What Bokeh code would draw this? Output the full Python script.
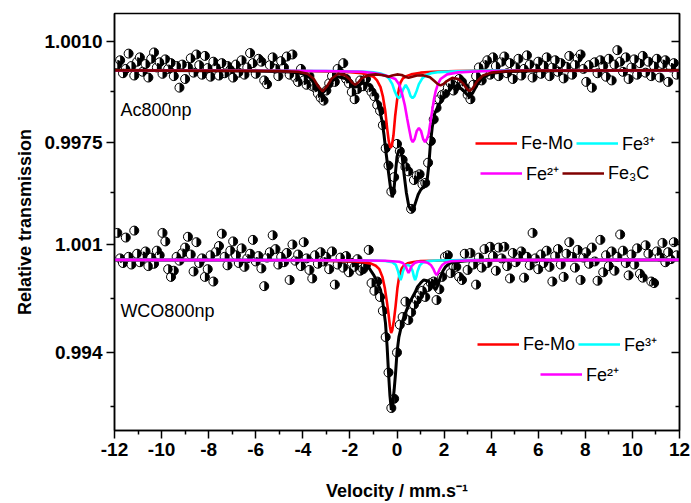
import math
from bokeh.plotting import figure
from bokeh.models import (Range1d, LinearAxis, FixedTicker, CustomJSTickFormatter,
                          Label, Legend, LegendItem)
from bokeh.embed import file_html
from bokeh.resources import INLINE

# ---------------- data ----------------
velocity = [
    -11.88, -11.76, -11.64, -11.52, -11.40, -11.28, -11.16, -11.04, -10.92, -10.80,
    -10.68, -10.56, -10.44, -10.32, -10.20, -10.08, -9.96, -9.84, -9.72, -9.60,
    -9.48, -9.36, -9.24, -9.12, -9.00, -8.88, -8.76, -8.64, -8.52, -8.40,
    -8.28, -8.16, -8.04, -7.92, -7.80, -7.68, -7.56, -7.44, -7.32, -7.20,
    -7.08, -6.96, -6.84, -6.72, -6.60, -6.48, -6.36, -6.24, -6.12, -6.00,
    -5.88, -5.76, -5.64, -5.52, -5.40, -5.28, -5.16, -5.04, -4.92, -4.80,
    -4.68, -4.56, -4.44, -4.32, -4.20, -4.08, -3.96, -3.84, -3.72, -3.60,
    -3.48, -3.36, -3.24, -3.12, -3.00, -2.88, -2.76, -2.64, -2.52, -2.40,
    -2.28, -2.16, -2.04, -1.92, -1.80, -1.68, -1.56, -1.44, -1.32, -1.20,
    -1.08, -0.96, -0.84, -0.72, -0.60, -0.48, -0.36, -0.24, -0.12, 0.00,
    0.12, 0.24, 0.36, 0.48, 0.60, 0.72, 0.84, 0.96, 1.08, 1.20,
    1.32, 1.44, 1.56, 1.68, 1.80, 1.92, 2.04, 2.16, 2.28, 2.40,
    2.52, 2.64, 2.76, 2.88, 3.00, 3.12, 3.24, 3.36, 3.48, 3.60,
    3.72, 3.84, 3.96, 4.08, 4.20, 4.32, 4.44, 4.56, 4.68, 4.80,
    4.92, 5.04, 5.16, 5.28, 5.40, 5.52, 5.64, 5.76, 5.88, 6.00,
    6.12, 6.24, 6.36, 6.48, 6.60, 6.72, 6.84, 6.96, 7.08, 7.20,
    7.32, 7.44, 7.56, 7.68, 7.80, 7.92, 8.04, 8.16, 8.28, 8.40,
    8.52, 8.64, 8.76, 8.88, 9.00, 9.12, 9.24, 9.36, 9.48, 9.60,
    9.72, 9.84, 9.96, 10.08, 10.20, 10.32, 10.44, 10.56, 10.68, 10.80,
    10.92, 11.04, 11.16, 11.28, 11.40, 11.52, 11.64, 11.76, 11.88,
]

ac800_T = [
    1.00020, 1.00035, 0.99990, 1.00005, 1.00058, 1.00015, 0.99982, 1.00030, 1.00045, 0.99995,
    1.00022, 0.99975, 1.00040, 1.00062, 1.00010, 1.00028, 0.99988, 1.00038, 1.00005, 1.00025,
    0.99980, 1.00015, 0.99940, 1.00020, 0.99970, 1.00012, 1.00042, 0.99992, 1.00055, 1.00018,
    0.99985, 1.00050, 1.00008, 0.99978, 1.00030, 1.00010, 0.99982, 1.00025, 0.99990, 1.00015,
    1.00002, 0.99975, 1.00020, 0.99992, 1.00035, 0.99985, 1.00010, 1.00060, 1.00025, 0.99988,
    1.00040, 1.00030, 0.99965, 0.99952, 1.00018, 1.00045, 1.00005, 0.99980, 1.00032, 1.00010,
    1.00048, 0.99985, 1.00055, 0.99975, 0.99960, 1.00005, 0.99965, 0.99950, 0.99980, 0.99945,
    0.99940, 0.99920, 0.99905, 0.99895, 0.99930, 0.99955, 0.99980, 0.99960, 1.00005, 0.99990,
    1.00025, 0.99970, 0.99955, 0.99925, 0.99900, 0.99935, 0.99965, 0.99945, 0.99970, 0.99940,
    0.99925, 0.99910, 0.99880, 0.99860, 0.99810, 0.99730, 0.99670, 0.99580, 0.99630, 0.99745,
    0.99720, 0.99690, 0.99665, 0.99650, 0.99520, 0.99620, 0.99635, 0.99640, 0.99605, 0.99610,
    0.99680, 0.99755, 0.99830, 0.99870, 0.99900, 0.99915, 0.99920, 0.99940, 0.99955, 0.99930,
    0.99945, 0.99970, 0.99960, 0.99940, 0.99915, 0.99900, 0.99950, 0.99980, 1.00010, 0.99965,
    1.00020, 1.00035, 0.99985, 1.00045, 1.00015, 0.99980, 1.00030, 1.00048, 0.99990, 1.00025,
    0.99970, 1.00010, 1.00040, 0.99982, 1.00005, 1.00052, 1.00020, 0.99975, 1.00008, 1.00030,
    0.99988, 1.00015, 1.00045, 0.99980, 1.00010, 1.00035, 0.99995, 1.00025, 0.99972, 1.00012,
    1.00050, 0.99985, 1.00020, 1.00042, 1.00055, 1.00005, 0.99960, 1.00018, 0.99940, 1.00028,
    0.99990, 1.00035, 1.00015, 0.99978, 1.00040, 0.99965, 1.00020, 1.00070, 1.00030, 0.99995,
    1.00045, 0.99970, 1.00010, 1.00038, 0.99985, 1.00025, 1.00050, 0.99992, 1.00030, 0.99980,
    1.00015, 1.00040, 0.99975, 1.00022, 1.00035, 0.99960, 1.00010, 1.00025, 0.99985,
]

wco800_T = [
    1.00175, 1.00010, 0.99980, 1.00145, 1.00020, 0.99970, 1.00190, 1.00040, 0.99985, 1.00025,
    1.00055, 0.99960, 1.00015, 0.99975, 1.00060, 1.00030, 1.00175, 1.00120, 0.99940, 0.99890,
    0.99930, 1.00020, 0.99995, 1.00045, 1.00080, 1.00150, 1.00035, 0.99925, 1.00115, 0.99980,
    1.00010, 0.99890, 0.99940, 1.00030, 0.99860, 1.00055, 1.00090, 1.00170, 1.00020, 0.99965,
    1.00060, 1.00120, 1.00030, 0.99980, 1.00075, 0.99955, 1.00010, 1.00040, 1.00130, 0.99990,
    1.00025, 0.99945, 0.99830, 1.00015, 1.00050, 1.00160, 1.00070, 0.99970, 1.00020, 0.99985,
    1.00045, 0.99870, 1.00100, 0.99995, 1.00035, 0.99960, 1.00115, 1.00010, 0.99935, 0.99880,
    1.00030, 0.99975, 1.00050, 0.99990, 1.00020, 0.99940, 1.00055, 0.99840, 0.99970, 1.00015,
    0.99950, 1.00025, 0.99920, 0.99980, 0.99955, 1.00005, 0.99930, 0.99940, 0.99965, 1.00065,
    0.99850, 0.99800, 0.99860, 0.99760, 0.99670, 0.99500, 0.99270, 0.99040, 0.99100, 0.99400,
    0.99580, 0.99630, 0.99730, 0.99610, 0.99660, 0.99710, 0.99740, 0.99770, 0.99800, 0.99760,
    0.99825, 0.99850, 0.99860, 0.99740, 0.99810, 0.99890, 1.00020, 1.00030, 0.99915, 0.99960,
    0.99955, 0.99890, 0.99870, 1.00040, 0.99935, 1.00045, 0.99970, 0.99840, 1.00015, 0.99950,
    1.00070, 0.99980, 1.00085, 1.00025, 0.99930, 1.00080, 1.00010, 1.00085, 0.99960, 0.99880,
    1.00045, 0.99985, 1.00030, 1.00055, 0.99885, 1.00020, 0.99965, 1.00175, 1.00010, 0.99940,
    1.00035, 0.99980, 1.00060, 0.99955, 0.99860, 1.00025, 1.00070, 0.99970, 0.99890, 1.00040,
    1.00115, 1.00020, 0.99950, 1.00065, 0.99870, 1.00015, 1.00050, 0.99975, 1.00080, 0.99990,
    0.99865, 1.00130, 0.99920, 1.00030, 0.99960, 1.00055, 0.99930, 1.00020, 1.00165, 1.00060,
    0.99980, 0.99900, 1.00035, 0.99970, 1.00075, 0.99910, 0.99885, 1.00095, 1.00040, 0.99860,
    0.99850, 1.00055, 1.00020, 1.00110, 0.99985, 1.00050, 1.00005, 1.00115, 1.00030,
]

# fitted sub-spectra, Ac800np (velocity, transmission)
ac_total_v = [-12, -6, -4.5, -4.0, -3.7, -3.5, -3.3, -3.16, -3.0, -2.8, -2.5, -2.2, -2.0, -1.85, -1.78,
              -1.65, -1.5, -1.3, -1.1, -0.95, -0.84, -0.73, -0.63, -0.55, -0.49, -0.42, -0.35, -0.27,
              -0.2, -0.13, -0.06, 0.0, 0.07, 0.15, 0.22, 0.3, 0.4, 0.5, 0.6, 0.7, 0.8, 0.9, 1.0, 1.1,
              1.2, 1.28, 1.35, 1.42, 1.5, 1.6, 1.72, 1.85, 1.95, 2.1, 2.3, 2.55, 2.8, 2.95, 3.08, 3.22,
              3.4, 3.65, 4.0, 4.6, 6, 12]
ac_total_T = [1.0, 0.99998, 0.99994, 0.99988, 0.99975, 0.99955, 0.99932, 0.99922, 0.99935, 0.99960,
              0.99978, 0.99972, 0.99958, 0.99945, 0.99942, 0.99945, 0.99955, 0.99955, 0.99942, 0.99925,
              0.99895, 0.99860, 0.99823, 0.99775, 0.99731, 0.99685, 0.99640, 0.99590, 0.99560, 0.99585,
              0.99650, 0.99700, 0.99722, 0.99726, 0.99700, 0.99640, 0.99575, 0.99530, 0.99515, 0.99520,
              0.99545, 0.99570, 0.99585, 0.99595, 0.99600, 0.99620, 0.99670, 0.99745, 0.99805, 0.99850,
              0.99872, 0.99890, 0.99902, 0.99915, 0.99938, 0.99948, 0.99932, 0.99918, 0.99910, 0.99922,
              0.99950, 0.99975, 0.99989, 0.99996, 0.99999, 1.0]

ac_femo_v = [-12, -4, -2, -1.5, -1.2, -1.0, -0.85, -0.7, -0.6, -0.5, -0.42, -0.35, -0.28, -0.22, -0.15,
             -0.08, 0.0, 0.08, 0.15, 0.25, 0.4, 0.6, 1.0, 1.5, 2.5, 4, 12]
ac_femo_T = [1.0, 0.99998, 0.99994, 0.99990, 0.99984, 0.99978, 0.99965, 0.99942, 0.99910, 0.99860,
             0.99800, 0.99755, 0.99732, 0.99738, 0.99775, 0.99840, 0.99895, 0.99935, 0.99958, 0.99972,
             0.99980, 0.99986, 0.99992, 0.99995, 0.99998, 0.99999, 1.0]

ac_fe3_v = [-12, -3, -1.5, -1.0, -0.7, -0.5, -0.35, -0.2, -0.1, 0.0, 0.08, 0.16, 0.25, 0.37, 0.49, 0.58,
            0.66, 0.74, 0.83, 0.93, 1.08, 1.25, 1.45, 1.8, 2.5, 4, 12]
ac_fe3_T = [1.0, 0.99998, 0.99996, 0.99993, 0.99989, 0.99983, 0.99973, 0.99952, 0.99928, 0.99910,
            0.99904, 0.99910, 0.99932, 0.99950, 0.99932, 0.99910, 0.99904, 0.99910, 0.99928, 0.99952,
            0.99973, 0.99984, 0.99990, 0.99994, 0.99997, 0.99999, 1.0]

ac_fe2_v = [-12, -3, -1.5, -1.0, -0.7, -0.4, -0.07, 0.1, 0.22, 0.33, 0.43, 0.52, 0.6, 0.67, 0.75, 0.84,
            0.93, 1.02, 1.11, 1.19, 1.27, 1.34, 1.42, 1.49, 1.57, 1.64, 1.75, 1.85, 2.13, 2.6, 3.5, 5, 12]
ac_fe2_T = [1.0, 0.99998, 0.99995, 0.99991, 0.99986, 0.99980, 0.99970, 0.99950, 0.99917, 0.99880,
            0.99834, 0.99795, 0.99762, 0.99751, 0.99762, 0.99790, 0.99800, 0.99790, 0.99762, 0.99751,
            0.99762, 0.99778, 0.99820, 0.99858, 0.99900, 0.99927, 0.99955, 0.99970, 0.99986, 0.99993,
            0.99997, 0.99999, 1.0]

ac_fe3c_v = [-12, -5, -4.2, -3.8, -3.55, -3.35, -3.16, -2.97, -2.77, -2.5, -2.2, -2.0, -1.9, -1.78, -1.66,
             -1.5, -1.2, -0.9, -0.65, -0.5, -0.36, -0.2, 0.0, 0.2, 0.35, 0.49, 0.65, 0.85, 1.1, 1.4,
             1.6, 1.72, 1.85, 1.98, 2.1, 2.35, 2.6, 2.8, 2.95, 3.08, 3.22, 3.4, 3.65, 4.0, 4.6, 5.5, 12]
ac_fe3c_T = [1.0, 0.99998, 0.99995, 0.99988, 0.99972, 0.99945, 0.99927, 0.99945, 0.99972, 0.99988,
             0.99982, 0.99968, 0.99957, 0.99950, 0.99957, 0.99972, 0.99984, 0.99986, 0.99984, 0.99981,
             0.99978, 0.99982, 0.99986, 0.99984, 0.99978, 0.99974, 0.99978, 0.99982, 0.99983, 0.99976,
             0.99962, 0.99953, 0.99948, 0.99953, 0.99962, 0.99974, 0.99970, 0.99955, 0.99938, 0.99928,
             0.99938, 0.99962, 0.99982, 0.99992, 0.99997, 0.99999, 1.0]

# fitted sub-spectra, WCO800np
wco_total_v = [-12, -3, -2, -1.6, -1.42, -1.25, -1.13, -0.98, -0.83, -0.7, -0.6, -0.49, -0.42, -0.36, -0.3,
               -0.24, -0.18, -0.12, -0.06, 0.0, 0.08, 0.15, 0.25, 0.36, 0.5, 0.66, 0.77, 0.87, 1.0, 1.13,
               1.28, 1.42, 1.55, 1.64, 1.75, 1.85, 1.95, 2.06, 2.2, 2.4, 3, 4, 12]
wco_total_T = [1.0, 0.99997, 0.99992, 0.99986, 0.99981, 0.99960, 0.99935, 0.99900, 0.99851, 0.99806,
               0.99720, 0.99592, 0.99440, 0.99268, 0.99120, 0.99028, 0.99070, 0.99160, 0.99268, 0.99400,
               0.99500, 0.99546, 0.99610, 0.99657, 0.99710, 0.99760, 0.99790, 0.99825, 0.99850, 0.99870,
               0.99865, 0.99851, 0.99825, 0.99806, 0.99840, 0.99890, 0.99928, 0.99955, 0.99975, 0.99987,
               0.99995, 0.99998, 1.0]

wco_femo_v = [-12, -4, -2.5, -1.8, -1.4, -1.1, -0.9, -0.75, -0.62, -0.52, -0.43, -0.36, -0.3, -0.25, -0.2,
              -0.13, -0.06, 0.02, 0.1, 0.2, 0.3, 0.45, 0.7, 1.0, 1.5, 2.5, 4, 12]
wco_femo_T = [1.0, 0.99997, 0.99994, 0.99990, 0.99984, 0.99976, 0.99962, 0.99940, 0.99890, 0.99820,
              0.99730, 0.99650, 0.99570, 0.99527, 0.99545, 0.99610, 0.99700, 0.99820, 0.99900, 0.99945,
              0.99965, 0.99978, 0.99987, 0.99992, 0.99995, 0.99998, 0.99999, 1.0]

wco_fe3_v = [-12, -2, -1, -0.5, -0.2, -0.05, 0.05, 0.1, 0.15, 0.2, 0.25, 0.35, 0.46, 0.57, 0.67, 0.72,
             0.77, 0.82, 0.87, 0.97, 1.1, 1.3, 1.7, 3, 12]
wco_fe3_T = [1.0, 0.99998, 0.99996, 0.99993, 0.99985, 0.99968, 0.99925, 0.99890, 0.99870, 0.99890,
             0.99925, 0.99960, 0.99968, 0.99960, 0.99925, 0.99890, 0.99870, 0.99890, 0.99925, 0.99965,
             0.99984, 0.99992, 0.99996, 0.99999, 1.0]

wco_fe2_v = [-12, -2, -0.5, 0.1, 0.25, 0.36, 0.43, 0.49, 0.55, 0.62, 0.75, 0.9, 1.1, 1.3, 1.45, 1.55,
             1.62, 1.68, 1.74, 1.81, 1.91, 2.05, 2.3, 3, 5, 12]
wco_fe2_T = [1.0, 0.99998, 0.99995, 0.99988, 0.99980, 0.99960, 0.99935, 0.99916, 0.99935, 0.99960,
             0.99980, 0.99988, 0.99988, 0.99982, 0.99965, 0.99940, 0.99915, 0.99903, 0.99915, 0.99940,
             0.99965, 0.99982, 0.99991, 0.99996, 0.99999, 1.0]

# axis ticks
x_ticks = [-12, -10, -8, -6, -4, -2, 0, 2, 4, 6, 8, 10, 12]
x_minor_ticks = [-11, -9, -7, -5, -3, -1, 1, 3, 5, 7, 9, 11]
top_major = [1.0010, 0.9975]
top_major_labels = ["1.0010", "0.9975"]
top_minor = [0.99925, 0.99575]
bot_major = [1.001, 0.994]
bot_major_labels = ["1.001", "0.994"]
bot_minor = [0.9975, 0.9905]

# each panel's scale, stretched over the full shared frame
TOP_LO, TOP_HI = 0.98752, 1.00197
BOT_LO, BOT_HI = 0.988944, 1.015972


def bot_to_top(v):
    return TOP_LO + (v - BOT_LO) / (BOT_HI - BOT_LO) * (TOP_HI - TOP_LO)


FONT = "Liberation Sans"
RED, CYAN, MAGENTA, BROWN = "#FF0000", "#00FFFF", "#FF00FF", "#800000"

p = figure(width=691, height=503, output_backend="svg", toolbar_location=None,
           x_range=Range1d(-12, 12), y_range=Range1d(TOP_LO, TOP_HI),
           min_border_left=114, min_border_right=12, min_border_top=13, min_border_bottom=73)
p.extra_y_ranges = {"bot": Range1d(BOT_LO, BOT_HI)}
p.grid.visible = False
p.outline_line_color = "black"
p.outline_line_width = 1.5
p.background_fill_color = "white"
p.border_fill_color = "white"

# ---- axes ----
major_pos = top_major + [bot_to_top(v) for v in bot_major]
major_lab = top_major_labels + bot_major_labels
minor_pos = top_minor + [bot_to_top(v) for v in bot_minor]
yticker = FixedTicker(ticks=major_pos, minor_ticks=minor_pos)

yax = p.yaxis[0]
yax.ticker = yticker
yax.formatter = CustomJSTickFormatter(args=dict(pos=major_pos, labs=major_lab), code="""
let best = 0, bd = Infinity;
for (let i = 0; i < pos.length; i++) { const d = Math.abs(pos[i] - tick); if (d < bd) { bd = d; best = i; } }
return labs[best];
""")
yax.axis_label = "Relative transmission"
yax.axis_label_standoff = 6

xax = p.xaxis[0]
xax.ticker = FixedTicker(ticks=x_ticks, minor_ticks=x_minor_ticks)
xax.formatter = CustomJSTickFormatter(code="return tick.toString();")
xax.axis_label = "Velocity / mm.s\u207b\u00b9"
xax.axis_label_standoff = 22

for ax in (xax, yax):
    ax.major_label_text_font = FONT
    ax.major_label_text_font_style = "bold"
    ax.major_label_text_font_size = "19px"
    ax.major_label_text_color = "black"
    ax.axis_label_text_font = FONT
    ax.axis_label_text_font_style = "bold"
    ax.axis_label_text_font_size = "18px"
    ax.axis_label_text_color = "black"
    ax.major_label_standoff = 4
    ax.axis_line_width = 1.5
    ax.major_tick_line_width = 1.5
    ax.minor_tick_line_width = 1.5
    ax.major_tick_out = 8
    ax.major_tick_in = 0
    ax.minor_tick_out = 4
    ax.minor_tick_in = 0

rax = LinearAxis(ticker=yticker, formatter=CustomJSTickFormatter(code="return '';"),
                 axis_line_width=1.5, major_tick_line_width=1.5, minor_tick_line_width=1.5,
                 major_tick_in=8, major_tick_out=0, minor_tick_in=4, minor_tick_out=0,
                 major_label_text_font_size="1px")
p.add_layout(rax, "right")

# ---- data points (half-filled circles) ----
p.scatter(velocity, ac800_T, size=9, fill_color="white", line_color="black", line_width=1)
p.wedge(velocity, ac800_T, radius=4.5, radius_units="screen", start_angle=-math.pi / 2,
        end_angle=math.pi / 2, fill_color="black", line_color=None)
p.scatter(velocity, wco800_T, size=9, fill_color="white", line_color="black", line_width=1,
          y_range_name="bot")
p.wedge(velocity, wco800_T, radius=4.5, radius_units="screen", start_angle=-math.pi / 2,
        end_angle=math.pi / 2, fill_color="black", line_color=None, y_range_name="bot")

# ---- fitted curves ----
LW = 2.6
p.line(ac_total_v, ac_total_T, line_color="black", line_width=3)
r_femo = p.line(ac_femo_v, ac_femo_T, line_color=RED, line_width=LW)
r_fe3 = p.line(ac_fe3_v, ac_fe3_T, line_color=CYAN, line_width=LW)
r_fe2 = p.line(ac_fe2_v, ac_fe2_T, line_color=MAGENTA, line_width=LW)
r_fe3c = p.line(ac_fe3c_v, ac_fe3c_T, line_color=BROWN, line_width=LW)

p.line(wco_total_v, wco_total_T, line_color="black", line_width=3, y_range_name="bot")
w_femo = p.line(wco_femo_v, wco_femo_T, line_color=RED, line_width=LW, y_range_name="bot")
w_fe3 = p.line(wco_fe3_v, wco_fe3_T, line_color=CYAN, line_width=LW, y_range_name="bot")
w_fe2 = p.line(wco_fe2_v, wco_fe2_T, line_color=MAGENTA, line_width=LW, y_range_name="bot")

# ---- sample names ----
p.add_layout(Label(x=-11.75, y=0.99864, text="Ac800np", text_font=FONT, text_font_size="18px",
                   text_baseline="middle", text_color="black"))
p.add_layout(Label(x=-11.75, y=0.99672, y_range_name="bot", text="WCO800np", text_font=FONT,
                   text_font_size="18px", text_baseline="middle", text_color="black"))


# ---- legends ----
def make_legend(items, loc):
    lg = Legend(items=items, location=loc, orientation="horizontal",
                border_line_color=None, background_fill_alpha=0, padding=0, margin=0,
                spacing=3, label_standoff=4, glyph_width=42, glyph_height=20, label_height=20,
                label_text_font=FONT, label_text_font_size="18px", label_text_color="black")
    p.add_layout(lg)


make_legend([LegendItem(label="Fe-Mo", renderers=[r_femo]),
             LegendItem(label="Fe\u00b3\u207a", renderers=[r_fe3])], (361, 275))
make_legend([LegendItem(label="Fe\u00b2\u207a", renderers=[r_fe2]),
             LegendItem(label="Fe\u2083C", renderers=[r_fe3c])], (366, 245))
make_legend([LegendItem(label="Fe-Mo", renderers=[w_femo]),
             LegendItem(label="Fe\u00b3\u207a", renderers=[w_fe3])], (363, 74))
make_legend([LegendItem(label="Fe\u00b2\u207a", renderers=[w_fe2])], (426, 44))

open("out.html", "w").write(file_html(p, INLINE))
